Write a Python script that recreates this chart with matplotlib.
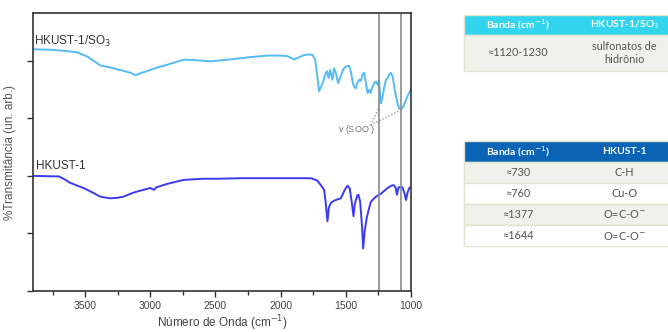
import matplotlib
matplotlib.use("Agg")
import matplotlib.pyplot as plt
from matplotlib.patches import Rectangle
from matplotlib.ticker import MultipleLocator

# ---------------- data ----------------
wn_so3 = [3900, 3750, 3650, 3564, 3480, 3410, 3385, 3300, 3231, 3150, 3115, 3080, 3025, 2950,
          2872, 2800, 2744, 2650, 2538, 2450, 2359, 2250, 2102, 2000, 1949, 1910, 1897, 1870,
          1821, 1780, 1756, 1735, 1720, 1705, 1690, 1679, 1660, 1645, 1632, 1620, 1603, 1590,
          1578, 1559, 1545, 1520, 1500, 1474, 1460, 1445, 1436, 1425, 1410, 1397, 1385, 1370,
          1359, 1345, 1333, 1320, 1310, 1295, 1280, 1269, 1255, 1245, 1231, 1220, 1205, 1190,
          1179, 1165, 1154, 1140, 1125, 1103, 1090, 1077, 1060, 1038, 1020, 1000]
t_so3 = [4.20, 4.19, 4.17, 4.15, 4.07, 3.96, 3.92, 3.88, 3.84, 3.79, 3.75, 3.78, 3.82, 3.88,
         3.93, 3.98, 4.02, 4.01, 3.99, 4.01, 4.03, 4.06, 4.09, 4.09, 4.08, 4.04, 4.02, 4.05,
         4.10, 4.11, 4.10, 4.02, 3.75, 3.47, 3.55, 3.60, 3.75, 3.82, 3.70, 3.84, 3.67, 3.87,
         3.80, 3.61, 3.70, 3.85, 3.90, 3.91, 3.80, 3.60, 3.55, 3.52, 3.62, 3.67, 3.65, 3.77,
         3.79, 3.60, 3.44, 3.50, 3.44, 3.55, 3.62, 3.64, 3.58, 3.65, 3.26, 3.35, 3.55, 3.68,
         3.70, 3.77, 3.79, 3.72, 3.50, 3.26, 3.17, 3.15, 3.20, 3.32, 3.42, 3.51]

wn_hk = [3900, 3700, 3650, 3615, 3560, 3513, 3450, 3385, 3308, 3250, 3205, 3128, 3050, 3000,
         2985, 2970, 2955, 2872, 2800, 2744, 2600, 2487, 2300, 2102, 1900, 1769, 1720, 1692,
         1667, 1655, 1641, 1630, 1615, 1590, 1577, 1555, 1538, 1510, 1487, 1470, 1455, 1441,
         1432, 1423, 1410, 1403, 1390, 1375, 1367, 1355, 1338, 1320, 1308, 1269, 1231, 1200,
         1179, 1150, 1133, 1118, 1108, 1095, 1082, 1065, 1050, 1038, 1025, 1013, 1000]
t_hk = [2.00, 1.99, 1.93, 1.88, 1.83, 1.79, 1.72, 1.64, 1.61, 1.62, 1.64, 1.71, 1.76, 1.79,
        1.77, 1.76, 1.80, 1.86, 1.90, 1.93, 1.95, 1.95, 1.96, 1.96, 1.96, 1.96, 1.92, 1.84,
        1.76, 1.55, 1.21, 1.45, 1.53, 1.57, 1.58, 1.60, 1.61, 1.75, 1.83, 1.78, 1.55, 1.30,
        1.50, 1.58, 1.67, 1.67, 1.55, 1.10, 0.74, 1.05, 1.29, 1.45, 1.55, 1.64, 1.69, 1.75,
        1.79, 1.83, 1.84, 1.80, 1.67, 1.80, 1.81, 1.80, 1.70, 1.58, 1.72, 1.79, 1.81]

series_labels = ["HKUST-1/SO$_3$", "HKUST-1"]
vlines_wn = [1243, 1077]
annot_text = "v (SOO$^{\\cdot}$)"
x_ticks = [3500, 3000, 2500, 2000, 1500, 1000]
x_label = "Número de Onda (cm$^{-1}$)"
y_label = "%Transmitância (un. arb.)"

table1_header = ["Banda (cm$^{-1}$)", "HKUST-1/SO$_3$"]
table1_rows = [["≈1120-1230", "sulfonatos de\nhidrônio"]]
table2_header = ["Banda (cm$^{-1}$)", "HKUST-1"]
table2_rows = [["≈730", "C-H"], ["≈760", "Cu-O"], ["≈1377", "O=C-O$^{-}$"], ["≈1644", "O=C-O$^{-}$"]]

# ---------------- figure ----------------
plt.rcParams['font.family'] = ['Liberation Sans', 'DejaVu Sans']
fig = plt.figure(figsize=(6.68, 3.32), dpi=100)
ax = fig.add_axes([33/668, 1-291/332, (411-33)/668, (291-13)/332])

ax.plot(wn_so3, t_so3, color='#55BBF7', lw=1.4)
ax.plot(wn_hk, t_hk, color='#3B3BF0', lw=1.4)
for v in vlines_wn:
    ax.axvline(v, color='#8a8a8a', lw=1.2)

ax.set_xlim(3900, 1000)
ax.set_ylim(0, 4.83)
ax.set_xticks(x_ticks)
ax.xaxis.set_minor_locator(MultipleLocator(250))
ax.set_yticks([0, 1, 2, 3, 4])
ax.set_yticklabels([])
ax.tick_params(axis='both', which='both', direction='out', colors='#333333', width=1)
ax.tick_params(axis='x', which='major', length=4, labelsize=7.5, labelcolor='#444444', pad=3)
ax.tick_params(axis='x', which='minor', length=3)
ax.tick_params(axis='y', which='major', length=4)
for s in ax.spines.values():
    s.set_color('#333333')
    s.set_linewidth(1.2)

ax.set_xlabel(x_label, fontsize=8.5, color='#444444', labelpad=2)
ax.set_ylabel(y_label, fontsize=8.5, color='#555555', labelpad=5)

ax.text(3890, 4.33, series_labels[0], fontsize=8.5, color='#333333', va='center', ha='left')
ax.text(3880, 2.17, series_labels[1], fontsize=8.5, color='#333333', va='center', ha='left')

ax.text(1420, 2.80, annot_text, fontsize=6.5, color='#777777', ha='center', va='center')
ax.plot([1310, 1236], [2.88, 3.24], ls=':', color='#888888', lw=0.9)
ax.plot([1310, 1080], [2.88, 3.14], ls=':', color='#888888', lw=0.9)

# ---------------- tables ----------------
ov = fig.add_axes([0, 0, 1, 1])
ov.set_xlim(0, 668)
ov.set_ylim(332, 0)
ov.axis('off')
ov.patch.set_alpha(0)

tfont = ['Lato', 'DejaVu Sans']
x0, x1 = 464, 678
xm = (x0 + x1) / 2
centers = [(x0 + xm) / 2, (xm + x1) / 2]
border = '#dfe5d3'

def draw_table(top, hdr_h, row_hs, header, rows, hdr_color, row_colors):
    ov.add_patch(Rectangle((x0, top), x1 - x0, hdr_h, facecolor=hdr_color, edgecolor=border, lw=1))
    for c, t in zip(centers, header):
        ov.text(c, top + hdr_h / 2, t, ha='center', va='center', fontsize=7.5,
                color='white', fontweight='bold', family=tfont)
    y = top + hdr_h
    for r, h, fc in zip(rows, row_hs, row_colors):
        ov.add_patch(Rectangle((x0, y), x1 - x0, h, facecolor=fc, edgecolor=border, lw=1))
        for c, t in zip(centers, r):
            ov.text(c, y + h / 2, t, ha='center', va='center', fontsize=7.8,
                    color='#555555', family=tfont, linespacing=1.2)
        y += h

draw_table(15, 20, [36], table1_header, table1_rows, '#33D4EE', ['#EFF1EA'])
draw_table(141, 21, [21, 21, 21, 21], table2_header, table2_rows, '#0A63B5',
           ['#EFF1EA', '#FFFFFF', '#EFF1EA', '#FFFFFF'])

fig.savefig('out.png', dpi=100)
